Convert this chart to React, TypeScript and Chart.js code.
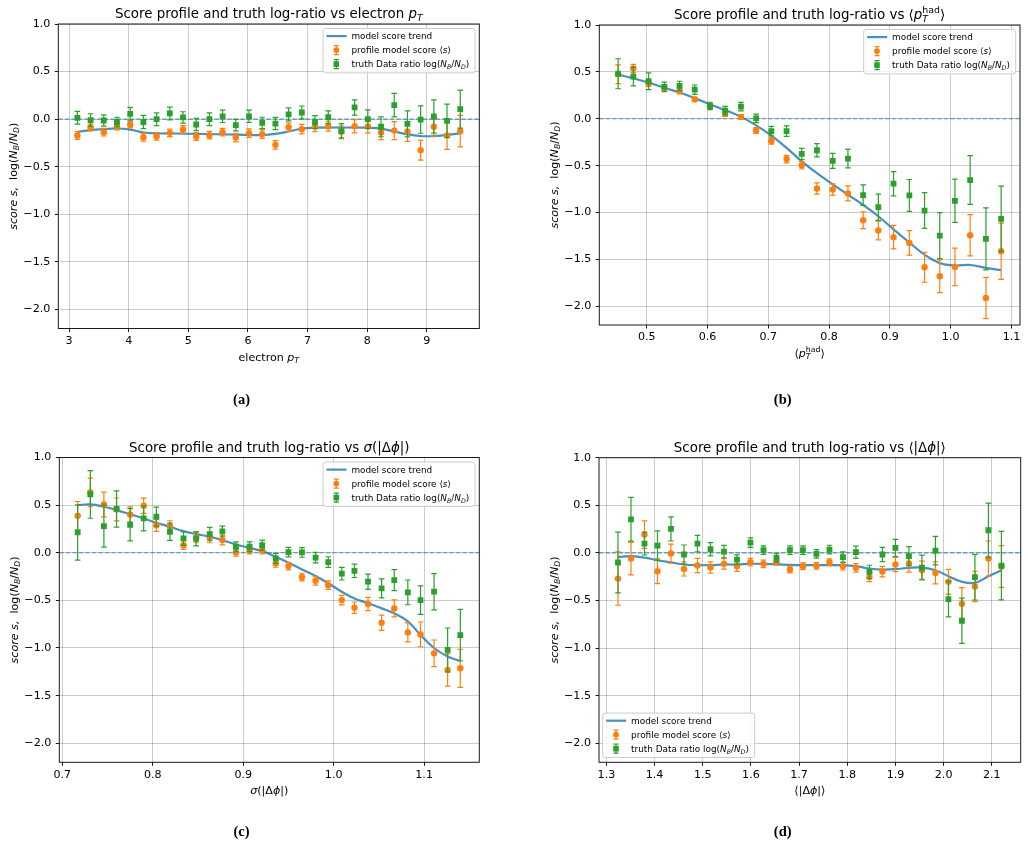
import React, { useEffect, useRef } from "react";
import { Chart, registerables } from "chart.js";
Chart.register(...registerables);

const SANS = '"DejaVu Sans", "Noto Sans", sans-serif';
const SERIF = '"Liberation Serif", "DejaVu Serif", serif';
const BLUE_LINE = "rgba(31,119,180,0.82)";
const BLUE_DASH = "rgba(31,119,180,0.75)";
const ORANGE = "#ff7f0e";
const GREEN = "#2ca02c";

// ---------------- data ----------------
const yTicks = [-2.0, -1.5, -1.0, -0.5, 0.0, 0.5, 1.0];

// (a) electron pT
const aXTicks = [3, 4, 5, 6, 7, 8, 9];
const aX = [3.140, 3.361, 3.583, 3.804, 4.026, 4.247, 4.468, 4.690, 4.911, 5.133, 5.354, 5.575, 5.797, 6.018, 6.240, 6.461, 6.682, 6.904, 7.125, 7.347, 7.568, 7.789, 8.011, 8.232, 8.454, 8.675, 8.896, 9.118, 9.339, 9.561];
const aTrend = [-0.133, -0.115, -0.105, -0.098, -0.110, -0.140, -0.150, -0.150, -0.152, -0.155, -0.157, -0.160, -0.163, -0.166, -0.168, -0.155, -0.130, -0.100, -0.090, -0.088, -0.088, -0.088, -0.090, -0.100, -0.130, -0.160, -0.178, -0.178, -0.165, -0.150];
const aProf = [-0.172, -0.088, -0.137, -0.077, -0.056, -0.190, -0.180, -0.144, -0.109, -0.182, -0.168, -0.137, -0.193, -0.147, -0.158, -0.270, -0.084, -0.105, -0.080, -0.077, -0.133, -0.074, -0.077, -0.140, -0.120, -0.130, -0.326, -0.080, -0.172, -0.126];
const aProfErr = [0.04, 0.035, 0.04, 0.035, 0.035, 0.04, 0.04, 0.04, 0.04, 0.04, 0.04, 0.04, 0.045, 0.045, 0.045, 0.045, 0.045, 0.05, 0.05, 0.05, 0.06, 0.07, 0.07, 0.075, 0.095, 0.105, 0.105, 0.1, 0.145, 0.165];
const aTruth = [0.014, -0.010, -0.014, -0.030, 0.056, -0.030, 0.000, 0.060, 0.018, -0.056, 0.000, 0.030, -0.063, 0.030, -0.040, -0.046, 0.050, 0.070, -0.030, 0.020, -0.126, 0.123, 0.000, -0.080, 0.147, -0.050, -0.004, 0.028, -0.018, 0.105];
const aTruthErr = [0.067, 0.067, 0.06, 0.05, 0.067, 0.07, 0.067, 0.067, 0.06, 0.065, 0.067, 0.065, 0.06, 0.065, 0.06, 0.065, 0.068, 0.068, 0.068, 0.068, 0.08, 0.08, 0.097, 0.105, 0.123, 0.137, 0.144, 0.175, 0.175, 0.2];

// (b) <pT had>
const bXTicks = [0.5, 0.6, 0.7, 0.8, 0.9, 1.0, 1.1];
const bX = [0.453, 0.478, 0.503, 0.529, 0.554, 0.579, 0.604, 0.629, 0.655, 0.680, 0.705, 0.730, 0.755, 0.780, 0.806, 0.831, 0.856, 0.881, 0.906, 0.932, 0.957, 0.982, 1.007, 1.032, 1.058, 1.083];
const bTrend = [0.47, 0.43, 0.386, 0.33, 0.28, 0.22, 0.154, 0.093, 0.02, -0.07, -0.18, -0.31, -0.454, -0.58, -0.70, -0.81, -0.92, -1.04, -1.18, -1.32, -1.45, -1.54, -1.565, -1.56, -1.59, -1.615];
const bProf = [0.475, 0.536, 0.375, 0.325, 0.296, 0.207, 0.125, 0.054, 0.018, -0.125, -0.236, -0.43, -0.496, -0.744, -0.754, -0.797, -1.082, -1.192, -1.263, -1.324, -1.584, -1.68, -1.58, -1.242, -1.911, -1.413];
const bProfErr = [0.1, 0.045, 0.03, 0.03, 0.03, 0.025, 0.025, 0.03, 0.025, 0.03, 0.035, 0.04, 0.04, 0.06, 0.06, 0.08, 0.09, 0.1, 0.125, 0.13, 0.16, 0.175, 0.2, 0.22, 0.22, 0.3];
const bTruth = [0.48, 0.45, 0.40, 0.34, 0.35, 0.31, 0.136, 0.086, 0.129, 0.004, -0.132, -0.132, -0.375, -0.336, -0.45, -0.425, -0.815, -0.943, -0.693, -0.818, -0.979, -1.246, -0.875, -0.654, -1.281, -1.068];
const bTruthErr = [0.16, 0.1, 0.09, 0.05, 0.05, 0.05, 0.04, 0.045, 0.045, 0.045, 0.05, 0.055, 0.06, 0.07, 0.08, 0.1, 0.11, 0.14, 0.13, 0.17, 0.19, 0.245, 0.23, 0.26, 0.33, 0.35];

// (c) sigma(|dphi|)
const cXTicks = [0.7, 0.8, 0.9, 1.0, 1.1];
const cX = [0.717, 0.731, 0.746, 0.760, 0.775, 0.790, 0.804, 0.819, 0.834, 0.848, 0.863, 0.877, 0.892, 0.907, 0.921, 0.936, 0.950, 0.965, 0.980, 0.994, 1.009, 1.023, 1.038, 1.053, 1.067, 1.082, 1.096, 1.111, 1.126, 1.140];
const cTrend = [0.5, 0.507, 0.483, 0.448, 0.405, 0.36, 0.315, 0.273, 0.227, 0.196, 0.168, 0.133, 0.087, 0.052, 0.017, -0.042, -0.105, -0.175, -0.245, -0.32, -0.41, -0.48, -0.53, -0.584, -0.636, -0.72, -0.864, -1.0, -1.09, -1.136];
const cProf = [0.388, 0.633, 0.507, 0.455, 0.402, 0.493, 0.29, 0.276, 0.08, 0.16, 0.16, 0.133, 0.003, 0.028, 0.028, -0.112, -0.14, -0.255, -0.294, -0.34, -0.497, -0.577, -0.538, -0.734, -0.584, -0.836, -0.857, -1.056, -1.23, -1.213];
const cProfErr = [0.15, 0.15, 0.13, 0.12, 0.08, 0.08, 0.065, 0.06, 0.045, 0.055, 0.055, 0.05, 0.04, 0.04, 0.04, 0.04, 0.04, 0.04, 0.045, 0.045, 0.05, 0.06, 0.07, 0.08, 0.09, 0.1, 0.13, 0.14, 0.17, 0.2];
const cTruth = [0.213, 0.612, 0.28, 0.46, 0.294, 0.36, 0.378, 0.22, 0.15, 0.147, 0.196, 0.224, 0.063, 0.063, 0.08, -0.06, 0.007, 0.003, -0.052, -0.098, -0.22, -0.19, -0.304, -0.374, -0.287, -0.416, -0.497, -0.409, -1.02, -0.864];
const cTruthErr = [0.29, 0.25, 0.22, 0.19, 0.17, 0.13, 0.1, 0.09, 0.07, 0.075, 0.07, 0.056, 0.052, 0.052, 0.052, 0.052, 0.05, 0.05, 0.055, 0.056, 0.066, 0.07, 0.08, 0.1, 0.11, 0.13, 0.15, 0.19, 0.23, 0.27];

// (d) <|dphi|>
const dXTicks = [1.3, 1.4, 1.5, 1.6, 1.7, 1.8, 1.9, 2.0, 2.1];
const dX = [1.324, 1.351, 1.379, 1.406, 1.434, 1.461, 1.489, 1.516, 1.544, 1.571, 1.599, 1.626, 1.653, 1.681, 1.708, 1.736, 1.763, 1.791, 1.818, 1.846, 1.873, 1.900, 1.928, 1.955, 1.983, 2.010, 2.038, 2.065, 2.093, 2.120];
const dTrend = [-0.042, -0.035, -0.049, -0.077, -0.1, -0.122, -0.129, -0.129, -0.122, -0.122, -0.115, -0.115, -0.119, -0.126, -0.129, -0.129, -0.129, -0.129, -0.14, -0.164, -0.175, -0.171, -0.157, -0.154, -0.182, -0.245, -0.304, -0.315, -0.245, -0.182];
const dProf = [-0.27, -0.06, 0.192, -0.192, -0.007, -0.168, -0.133, -0.154, -0.115, -0.14, -0.098, -0.115, -0.094, -0.175, -0.14, -0.136, -0.098, -0.14, -0.157, -0.252, -0.196, -0.122, -0.112, -0.182, -0.21, -0.304, -0.535, -0.353, -0.06, -0.143];
const dProfErr = [0.28, 0.17, 0.145, 0.13, 0.1, 0.075, 0.075, 0.06, 0.055, 0.055, 0.04, 0.04, 0.035, 0.035, 0.035, 0.035, 0.035, 0.04, 0.045, 0.05, 0.055, 0.075, 0.09, 0.095, 0.115, 0.13, 0.17, 0.16, 0.185, 0.22];
const dTruth = [-0.101, 0.353, 0.098, 0.077, 0.252, -0.017, 0.098, 0.038, 0.014, -0.07, 0.108, 0.028, -0.052, 0.028, 0.028, -0.01, 0.035, -0.045, 0.007, -0.2, -0.017, 0.052, -0.035, -0.154, 0.024, -0.486, -0.713, -0.255, 0.238, -0.133];
const dTruthErr = [0.32, 0.23, 0.12, 0.155, 0.127, 0.1, 0.087, 0.07, 0.065, 0.05, 0.05, 0.045, 0.045, 0.045, 0.045, 0.045, 0.045, 0.055, 0.065, 0.07, 0.075, 0.09, 0.1, 0.13, 0.15, 0.186, 0.237, 0.24, 0.285, 0.36];

// ---------------- rich text ----------------
type Seg = { t: string; it?: boolean; pos?: "sub" | "sup"; stay?: boolean };

function segFont(size: number, it?: boolean) {
  return `${it ? "italic " : ""}${size}px ${SANS}`;
}
function segsWidth(ctx: CanvasRenderingContext2D, segs: Seg[], size: number) {
  let w = 0, pend = 0;
  for (const s of segs) {
    const sz = s.pos ? size * 0.7 : size;
    ctx.font = segFont(sz, s.it);
    const sw = ctx.measureText(s.t).width;
    if (s.stay) pend = sw;
    else { w += Math.max(sw, pend); pend = 0; }
  }
  return w + pend;
}
function drawSegs(ctx: CanvasRenderingContext2D, segs: Seg[], x: number, y: number, size: number, align: "left" | "center") {
  const total = segsWidth(ctx, segs, size);
  let cx = align === "center" ? x - total / 2 : x;
  let pend = 0;
  ctx.textAlign = "left";
  ctx.textBaseline = "alphabetic";
  for (const s of segs) {
    const sz = s.pos ? size * 0.7 : size;
    ctx.font = segFont(sz, s.it);
    const sw = ctx.measureText(s.t).width;
    const dy = s.pos === "sub" ? size * 0.22 : s.pos === "sup" ? -size * 0.45 : 0;
    ctx.fillText(s.t, cx, y + dy);
    if (s.stay) pend = sw;
    else { cx += Math.max(sw, pend); pend = 0; }
  }
}

const TITLE_PRE = "Score profile and truth log-ratio vs ";
const yLabel: Seg[] = [
  { t: "score s,", it: true }, { t: "  log(" }, { t: "N", it: true }, { t: "B", it: true, pos: "sub" },
  { t: "/" }, { t: "N", it: true }, { t: "D", it: true, pos: "sub" }, { t: ")" },
];
const legLabels: Seg[][] = [
  [{ t: "model score trend" }],
  [{ t: "profile model score ⟨" }, { t: "s", it: true }, { t: "⟩" }],
  [{ t: "truth Data ratio log(" }, { t: "N", it: true }, { t: "B", it: true, pos: "sub" }, { t: "/" }, { t: "N", it: true }, { t: "D", it: true, pos: "sub" }, { t: ")" }],
];

interface Panel {
  box: { x: number; y: number; w: number; h: number };
  area: { l: number; t: number; r: number; b: number };
  xMin: number; xMax: number; xTicks: number[]; xDec: number;
  x: number[]; trend: number[]; prof: number[]; profErr: number[]; truth: number[]; truthErr: number[];
  title: Seg[]; xLabel: Seg[]; caption: string; capX: number; capY: number; legend: "ur" | "ll";
}

const pT: Seg[] = [{ t: "p", it: true }, { t: "T", it: true, pos: "sub" }];
const pThad: Seg[] = [{ t: "⟨" }, { t: "p", it: true }, { t: "T", it: true, pos: "sub", stay: true }, { t: "had", pos: "sup" }, { t: "⟩" }];
const sigDphi: Seg[] = [{ t: "σ", it: true }, { t: "(|Δ" }, { t: "ϕ", it: true }, { t: "|)" }];
const avgDphi: Seg[] = [{ t: "⟨|Δ" }, { t: "ϕ", it: true }, { t: "|⟩" }];

const panels: Panel[] = [
  {
    box: { x: 0, y: 0, w: 514, h: 423 }, area: { l: 58.3, t: 24, r: 479.3, b: 328.5 },
    xMin: 2.82, xMax: 9.88, xTicks: aXTicks, xDec: 0,
    x: aX, trend: aTrend, prof: aProf, profErr: aProfErr, truth: aTruth, truthErr: aTruthErr,
    title: [{ t: TITLE_PRE + "electron " }, ...pT], xLabel: [{ t: "electron " }, ...pT],
    caption: "(a)", capX: 241.5, capY: 403.5, legend: "ur",
  },
  {
    box: { x: 514, y: 0, w: 514, h: 423 }, area: { l: 599.3, t: 25, r: 1020, b: 325 },
    xMin: 0.422, xMax: 1.114, xTicks: bXTicks, xDec: 1,
    x: bX, trend: bTrend, prof: bProf, profErr: bProfErr, truth: bTruth, truthErr: bTruthErr,
    title: [{ t: TITLE_PRE }, ...pThad], xLabel: pThad,
    caption: "(b)", capX: 782.7, capY: 403.5, legend: "ur",
  },
  {
    box: { x: 0, y: 423, w: 514, h: 424 }, area: { l: 59.3, t: 457.5, r: 479.3, b: 762.3 },
    xMin: 0.6967, xMax: 1.161, xTicks: cXTicks, xDec: 1,
    x: cX, trend: cTrend, prof: cProf, profErr: cProfErr, truth: cTruth, truthErr: cTruthErr,
    title: [{ t: TITLE_PRE }, ...sigDphi], xLabel: sigDphi,
    caption: "(c)", capX: 241.5, capY: 836, legend: "ur",
  },
  {
    box: { x: 514, y: 423, w: 514, h: 424 }, area: { l: 599, t: 457.7, r: 1020.7, b: 762.3 },
    xMin: 1.2846, xMax: 2.16, xTicks: dXTicks, xDec: 1,
    x: dX, trend: dTrend, prof: dProf, profErr: dProfErr, truth: dTruth, truthErr: dTruthErr,
    title: [{ t: TITLE_PRE }, ...avgDphi], xLabel: avgDphi,
    caption: "(d)", capX: 782.7, capY: 836, legend: "ll",
  },
];

const TICK_FONT = 11.1;
const LABEL_FONT = 11.1;
const TITLE_FONT = 13.4;
const LEGEND_FONT = 8.9;
const fmtNum = (v: number, dec: number) => {
  const s = Math.abs(v).toFixed(dec);
  return (v < -1e-9 ? "\u2212" : "") + s;
};

function drawErrMarker(ctx: CanvasRenderingContext2D, cx: number, cy: number, color: string, square: boolean) {
  ctx.strokeStyle = color;
  ctx.lineWidth = 1.2;
  ctx.beginPath();
  ctx.moveTo(cx, cy - 4.5); ctx.lineTo(cx, cy + 4.5);
  ctx.moveTo(cx - 2.5, cy - 4.5); ctx.lineTo(cx + 2.5, cy - 4.5);
  ctx.moveTo(cx - 2.5, cy + 4.5); ctx.lineTo(cx + 2.5, cy + 4.5);
  ctx.stroke();
  ctx.fillStyle = color;
  if (square) ctx.fillRect(cx - 2.8, cy - 2.8, 5.6, 5.6);
  else { ctx.beginPath(); ctx.arc(cx, cy, 2.9, 0, Math.PI * 2); ctx.fill(); }
}

function PanelChart({ p }: { p: Panel }) {
  const ref = useRef<HTMLCanvasElement>(null);
  useEffect(() => {
    const cv = ref.current!;
    const ox = p.box.x, oy = p.box.y;
    const A = { l: p.area.l - ox, t: p.area.t - oy, r: p.area.r - ox, b: p.area.b - oy };

    const decor = {
      id: "panelDecor",
      beforeDatasetsDraw(chart: any) {
        const ctx = chart.ctx as CanvasRenderingContext2D;
        const ca = chart.chartArea;
        const y0 = chart.scales.y.getPixelForValue(0);
        ctx.save();
        ctx.strokeStyle = BLUE_DASH;
        ctx.lineWidth = 1.2;
        ctx.setLineDash([4.5, 2]);
        ctx.beginPath();
        ctx.moveTo(ca.left, y0); ctx.lineTo(ca.right, y0);
        ctx.stroke();
        ctx.restore();
      },
      beforeDatasetDraw(chart: any, args: any) {
        const ds = chart.data.datasets[args.index];
        if (!ds.errs) return;
        const ctx = chart.ctx as CanvasRenderingContext2D;
        const ys = chart.scales.y;
        ctx.save();
        ctx.strokeStyle = ds.errColor;
        ctx.lineWidth = 1.2;
        ctx.beginPath();
        args.meta.data.forEach((el: any, i: number) => {
          const v = ds.data[i].y, e = ds.errs[i];
          const yt = ys.getPixelForValue(v + e), yb = ys.getPixelForValue(v - e);
          ctx.moveTo(el.x, yt); ctx.lineTo(el.x, yb);
          ctx.moveTo(el.x - 2.8, yt); ctx.lineTo(el.x + 2.8, yt);
          ctx.moveTo(el.x - 2.8, yb); ctx.lineTo(el.x + 2.8, yb);
        });
        ctx.stroke();
        ctx.restore();
      },
      afterDatasetsDraw(chart: any) {
        const ctx = chart.ctx as CanvasRenderingContext2D;
        const ca = chart.chartArea;
        ctx.save();
        ctx.strokeStyle = "#1a1a1a";
        ctx.lineWidth = 1;
        ctx.strokeRect(ca.left, ca.top, ca.right - ca.left, ca.bottom - ca.top);
        // legend
        const LW = 152, LH = 44.4;
        const bx = p.legend === "ur" ? ca.right - 4.3 - LW : ca.left + 3.7;
        const by = p.legend === "ur" ? ca.top + 4.5 : ca.bottom - 4.8 - LH;
        ctx.beginPath();
        ctx.roundRect(bx, by, LW, LH, 2.5);
        ctx.fillStyle = "rgba(255,255,255,0.8)";
        ctx.fill();
        ctx.strokeStyle = "#cccccc";
        ctx.lineWidth = 1;
        ctx.stroke();
        const rows = [by + 7.6, by + 21.6, by + 35.6];
        ctx.strokeStyle = BLUE_LINE;
        ctx.lineWidth = 2.2;
        ctx.beginPath();
        ctx.moveTo(bx + 3.5, rows[0]); ctx.lineTo(bx + 23.5, rows[0]);
        ctx.stroke();
        drawErrMarker(ctx, bx + 13.3, rows[1], ORANGE, false);
        drawErrMarker(ctx, bx + 13.3, rows[2], GREEN, true);
        ctx.fillStyle = "#000";
        legLabels.forEach((segs, i) => drawSegs(ctx, segs, bx + 28.4, rows[i] + 3.2, LEGEND_FONT, "left"));
        ctx.restore();
      },
      afterDraw(chart: any) {
        const ctx = chart.ctx as CanvasRenderingContext2D;
        const ca = chart.chartArea;
        const cxm = (ca.left + ca.right) / 2;
        ctx.save();
        ctx.fillStyle = "#000";
        drawSegs(ctx, p.title, cxm, ca.top - 6, TITLE_FONT, "center");
        drawSegs(ctx, p.xLabel, cxm, ca.bottom + 32, LABEL_FONT, "center");
        ctx.save();
        ctx.translate(ca.left - 41.3, (ca.top + ca.bottom) / 2);
        ctx.rotate(-Math.PI / 2);
        drawSegs(ctx, yLabel, 0, 0, LABEL_FONT, "center");
        ctx.restore();
        ctx.font = `bold 14.5px ${SERIF}`;
        ctx.textAlign = "center";
        ctx.textBaseline = "alphabetic";
        ctx.fillText(p.caption, p.capX - ox, p.capY - oy);
        ctx.restore();
      },
    };

    const pts = (ys: number[]) => p.x.map((x, i) => ({ x, y: ys[i] }));
    const chart = new Chart(cv, {
      type: "scatter",
      data: {
        datasets: [
          {
            type: "line", label: "model score trend", data: pts(p.trend),
            borderColor: BLUE_LINE, borderWidth: 2.2, pointRadius: 0, tension: 0.4, fill: false, order: 2,
          } as any,
          {
            type: "scatter", label: "profile model score", data: pts(p.prof),
            pointStyle: "circle", pointRadius: 3.2, pointBackgroundColor: ORANGE, pointBorderWidth: 0,
            order: 1, errs: p.profErr, errColor: ORANGE,
          } as any,
          {
            type: "scatter", label: "truth Data ratio", data: pts(p.truth),
            pointStyle: "rect", pointRadius: 4.1, pointBackgroundColor: GREEN, pointBorderWidth: 0,
            order: 0, errs: p.truthErr, errColor: GREEN,
          } as any,
        ],
      },
      options: {
        animation: false,
        responsive: false,
        maintainAspectRatio: false,
        events: [],
        layout: { padding: { left: 0, top: A.t, right: p.box.w - A.r, bottom: 0 } },
        plugins: { legend: { display: false }, tooltip: { enabled: false }, title: { display: false } },
        scales: {
          x: {
            type: "linear", min: p.xMin, max: p.xMax, bounds: "data",
            afterBuildTicks: (s: any) => { s.ticks = p.xTicks.map((v) => ({ value: v })); },
            afterFit: (s: any) => { s.height = p.box.h - A.b; },
            grid: { color: "rgba(0,0,0,0.2)", lineWidth: 1, tickLength: 3.5, tickColor: "#1a1a1a", tickWidth: 1 },
            border: { display: false },
            ticks: {
              font: { family: SANS, size: TICK_FONT }, color: "#000", padding: 2.4, maxRotation: 0, autoSkip: false,
              callback: (v: any) => fmtNum(Number(v), p.xDec),
            },
          },
          y: {
            type: "linear", min: -2.2, max: 1.0, bounds: "data",
            afterBuildTicks: (s: any) => { s.ticks = yTicks.map((v) => ({ value: v })); },
            afterFit: (s: any) => { s.width = A.l; },
            grid: { color: "rgba(0,0,0,0.2)", lineWidth: 1, tickLength: 3.5, tickColor: "#1a1a1a", tickWidth: 1 },
            border: { display: false },
            ticks: {
              font: { family: SANS, size: TICK_FONT }, color: "#000", padding: 4.5, autoSkip: false,
              callback: (v: any) => fmtNum(Number(v), 1),
            },
          },
        },
      } as any,
      plugins: [decor as any],
    });
    return () => chart.destroy();
  }, [p]);
  return (
    <canvas
      ref={ref}
      width={p.box.w}
      height={p.box.h}
      style={{ position: "absolute", left: p.box.x, top: p.box.y, width: p.box.w, height: p.box.h }}
    />
  );
}

export default function App() {
  return (
    <div style={{ position: "fixed", left: 0, top: 0, width: 1028, height: 847, background: "#fff", overflow: "hidden" }}>
      {panels.map((p, i) => (
        <PanelChart key={i} p={p} />
      ))}
    </div>
  );
}
